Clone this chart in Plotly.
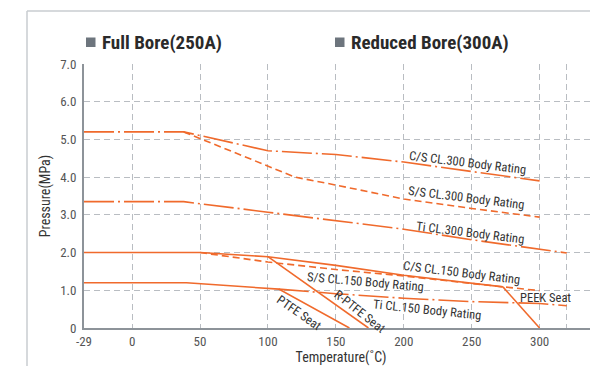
import plotly.graph_objects as go

# ---------------- data ----------------
x_tick_vals = [-29, 0, 50, 100, 150, 200, 250, 300, 320]
x_tick_text = ["-29", "0", "50", "100", "150", "200", "250", "300", ""]
y_tick_vals = [0, 1, 2, 3, 4, 5, 6, 7]
y_tick_text = ["0", "1.0", "2.0", "3.0", "4.0", "5.0", "6.0", "7.0"]

cs300_T = [-29, 38, 100, 150, 200, 250, 300]
cs300_P = [5.2, 5.2, 4.7, 4.6, 4.4, 4.15, 3.9]

ss300_T = [38, 100, 120, 150, 200, 250, 300]
ss300_P = [5.2, 4.3, 4.0, 3.79, 3.42, 3.17, 2.94]

ti300_T = [-29, 38, 100, 150, 200, 250, 300, 320]
ti300_P = [3.35, 3.35, 3.07, 2.85, 2.62, 2.34, 2.09, 1.99]

cs150_T = [-29, 50, 100, 150, 200, 250, 273]
cs150_P = [2.0, 2.0, 1.89, 1.66, 1.40, 1.19, 1.09]

ss150_T = [50, 100, 150, 200, 250, 300]
ss150_P = [2.0, 1.75, 1.55, 1.38, 1.18, 0.99]

ti150_T = [108, 150, 200, 250, 300, 320]
ti150_P = [1.03, 0.91, 0.79, 0.70, 0.65, 0.59]

ptfe_T = [-29, 40, 108, 160]
ptfe_P = [1.2, 1.2, 1.03, 0.0]

rptfe_T = [100, 174]
rptfe_P = [1.89, 0.0]

peek_T = [273, 300]
peek_P = [1.09, 0.0]

# --------------- styling ---------------
ORANGE = "#f06a2c"
GRID = "#b9bdc2"
AXIS = "#8d9399"
TXT = "#333333"
FONT = "Roboto Condensed, Liberation Sans Narrow, DejaVu Sans Condensed, Roboto, sans-serif"

# the reference axis is broken between -29 and 0: -29 sits at the axis start
X_START = -35.4


def ax(t):
    return t * (X_START / -29.0) if t < 0 else t


def axs(ts):
    return [ax(t) for t in ts]


DASHDOT = "30px,4px,2px,4px"
DASH = "7px,4px"

series = [
    (cs300_T, cs300_P, DASHDOT),
    (ss300_T, ss300_P, DASH),
    (ti300_T, ti300_P, DASHDOT),
    (cs150_T, cs150_P, "solid"),
    (ss150_T, ss150_P, DASH),
    (ti150_T, ti150_P, DASHDOT),
    (ptfe_T, ptfe_P, "solid"),
    (rptfe_T, rptfe_P, "solid"),
    (peek_T, peek_P, "solid"),
]

fig = go.Figure()
for T, P, d in series:
    fig.add_trace(go.Scatter(x=axs(T), y=P, mode="lines",
                             line=dict(color=ORANGE, width=1.6, dash=d),
                             hoverinfo="skip"))

# line labels: (text, x, y, angle)
labels = [
    ("C/S CL.300 Body Rating", 247.5, 4.4, 7),
    ("S/S CL.300 Body Rating", 246.0, 3.47, 7),
    ("Ti CL.300 Body Rating", 249.0, 2.54, 7),
    ("C/S CL.150 Body Rating", 243.0, 1.48, 7),
    ("S/S CL.150 Body Rating", 171.5, 1.22, 5),
    ("Ti CL.150 Body Rating", 217.5, 0.50, 6),
    ("PEEK Seat", 304.5, 0.82, 0),
    ("PTFE Seat", 123.0, 0.42, 35),
    ("R-PTFE Seat", 168.0, 0.45, 38),
]
for t, x, y, a in labels:
    fig.add_annotation(x=x, y=y, xref="x", yref="y", text=t, showarrow=False,
                       textangle=a, font=dict(family=FONT, size=12.5, color=TXT))

# page has an 8px body margin: figure is 590x358 placed at (8, 8)
OFF = 8
W, H = 598 - OFF, 366 - OFF
L, TOP = 84 - OFF, 64 - OFF
R = 0
B = H - (328 - OFF)
pw, ph = W - L - R, H - TOP - B


def px_x(p):
    return (p - OFF - L) / pw


def px_y(p):
    return (328 - p) / ph


for sx, tx, txt in [(86, 100, "Full Bore(250A)"), (335, 349, "Reduced Bore(300A)")]:
    fig.add_shape(type="rect", xref="paper", yref="paper",
                  x0=px_x(sx), x1=px_x(sx + 9.5), y0=px_y(47), y1=px_y(37.5),
                  fillcolor="#6d757d", line=dict(width=0), layer="above")
    fig.add_annotation(xref="paper", yref="paper", x=px_x(tx), y=px_y(42.5),
                       xanchor="left", yanchor="middle", text="<b>" + txt + "</b>",
                       showarrow=False, font=dict(family=FONT, size=19, color="#2a2a2a"))

# outer light frame
fig.add_shape(type="line", xref="paper", yref="paper", x0=px_x(27), x1=px_x(27),
              y0=px_y(11), y1=px_y(370), line=dict(color="#c9cdd1", width=1.5))
fig.add_shape(type="line", xref="paper", yref="paper", x0=px_x(27), x1=px_x(600),
              y0=px_y(11), y1=px_y(11), line=dict(color="#c9cdd1", width=1.5))

fig.update_layout(
    width=W, height=H,
    margin=dict(l=L, r=R, t=TOP, b=B, pad=0),
    plot_bgcolor="white", paper_bgcolor="white",
    showlegend=False,
    font=dict(family=FONT, color=TXT),
    xaxis=dict(range=[X_START, 343], tickmode="array",
               tickvals=axs(x_tick_vals), ticktext=x_tick_text,
               showgrid=True, gridcolor=GRID, griddash="6px,4px", gridwidth=1,
               showline=True, linecolor=AXIS, linewidth=2, zeroline=False,
               ticks="", tickfont=dict(family=FONT, size=13, color="#555555"),
               title=dict(text="Temperature(˚C)", standoff=2,
                          font=dict(family=FONT, size=14, color=TXT))),
    yaxis=dict(range=[0, 7], tickmode="array", tickvals=y_tick_vals, ticktext=y_tick_text,
               showgrid=True, gridcolor=GRID, griddash="6px,4px", gridwidth=1,
               showline=True, linecolor=AXIS, linewidth=2, zeroline=False,
               ticks="", ticklabelstandoff=3,
               tickfont=dict(family=FONT, size=13, color="#555555"),
               title=dict(text="Pressure(MPa)", standoff=6,
                          font=dict(family=FONT, size=14, color=TXT))),
)

fig.write_html("out.html")
